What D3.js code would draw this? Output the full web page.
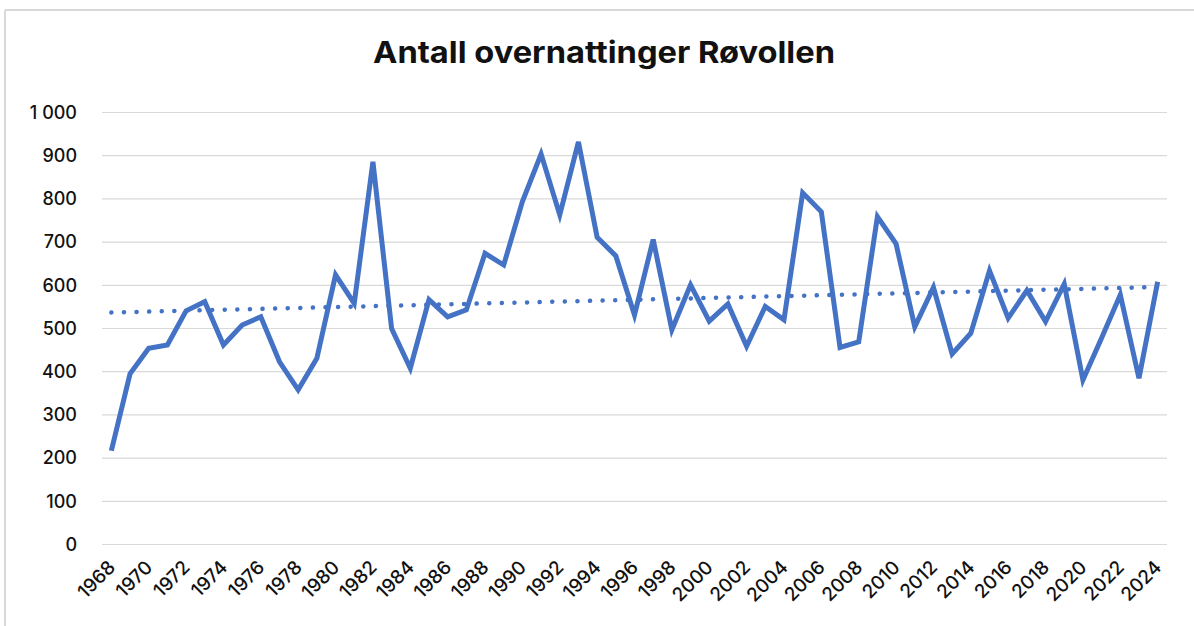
<!DOCTYPE html>
<html>
<head>
<meta charset="utf-8">
<script src="https://cdn.jsdelivr.net/npm/d3@7"></script>
<style>
  html, body { margin: 0; padding: 0; background: #fff; }
  svg { display: block; }
  text { font-family: Inter, "Open Sans", sans-serif; fill: #111; }
</style>
</head>
<body>
<svg id="chart" width="1194" height="626"></svg>
<script>
const years = [1968,1969,1970,1971,1972,1973,1974,1975,1976,1977,1978,1979,1980,1981,1982,1983,1984,1985,1986,1987,1988,1989,1990,1991,1992,1993,1994,1995,1996,1997,1998,1999,2000,2001,2002,2003,2004,2005,2006,2007,2008,2009,2010,2011,2012,2013,2014,2015,2016,2017,2018,2019,2020,2021,2022,2023,2024];
const overnattinger = [217,395,454,462,541,562,462,508,527,423,358,431,624,558,886,500,408,567,527,543,674,647,794,904,763,932,711,668,531,706,497,601,517,557,459,551,520,814,770,456,469,759,696,504,595,441,489,634,524,588,516,603,381,478,578,385,608];
const trendYears = [1968, 2024];
const trendValues = [537, 596];
const yTicks = [0,100,200,300,400,500,600,700,800,900,1000];
const yTickLabels = ["0","100","200","300","400","500","600","700","800","900","1\u00a0000"];
const xTickLabels = years.filter((y, i) => i % 2 === 0);
const title = "Antall overnattinger Røvollen";

const svg = d3.select("#chart");
const W = 1194, H = 626;
const plot = { left: 102, right: 1167, top: 112.5, bottom: 544.5 };

// frame
svg.append("line").attr("x1", 5).attr("x2", W).attr("y1", 10).attr("y2", 10)
  .attr("stroke", "#d9d9d9").attr("stroke-width", 2);
svg.append("line").attr("x1", 5).attr("x2", 5).attr("y1", 10).attr("y2", H)
  .attr("stroke", "#d9d9d9").attr("stroke-width", 2);

const x = d3.scaleBand().domain(years).range([plot.left, plot.right]).padding(0);
const xc = d => x(d) + x.bandwidth() / 2;
const y = d3.scaleLinear().domain([0, 1000]).range([plot.bottom, plot.top]);

// gridlines
svg.append("g").selectAll("line").data(yTicks).join("line")
  .attr("x1", plot.left).attr("x2", plot.right)
  .attr("y1", d => y(d)).attr("y2", d => y(d))
  .attr("stroke", "#d9d9d9").attr("stroke-width", 1.2);

// y axis labels
const yAxis = d3.axisLeft(y).tickValues(yTicks).tickSize(0).tickPadding(0)
  .tickFormat((d, i) => yTickLabels[i]);
const gy = svg.append("g").attr("transform", `translate(77,0)`).call(yAxis);
gy.select(".domain").remove();
gy.selectAll("text").attr("font-size", 18).attr("font-weight", 500)
  .attr("font-family", "Inter, sans-serif").attr("fill", "#111");

// x axis labels
const xAxis = d3.axisBottom(x).tickValues(xTickLabels).tickSize(0).tickPadding(0);
const gx = svg.append("g").attr("transform", `translate(0,${plot.bottom})`).call(xAxis);
gx.select(".domain").remove();
gx.selectAll("text")
  .attr("font-size", 19).attr("font-weight", 500).attr("font-family", "Inter, sans-serif")
  .attr("fill", "#111")
  .attr("text-anchor", "end")
  .attr("dy", 0).attr("y", 0).attr("x", 0)
  .attr("transform", "translate(5,24) rotate(-45)");

// trend line (dotted)
const line = d3.line().x(d => xc(d[0])).y(d => y(d[1]));
svg.append("path")
  .datum(trendYears.map((yr, i) => [yr, trendValues[i]]))
  .attr("d", line)
  .attr("fill", "none").attr("stroke", "#4472C4").attr("stroke-width", 4.5)
  .attr("stroke-linecap", "round").attr("stroke-dasharray", "0.1 12.5");

// main line
svg.append("path")
  .datum(years.map((yr, i) => [yr, overnattinger[i]]))
  .attr("d", line)
  .attr("fill", "none").attr("stroke", "#4472C4").attr("stroke-width", 5)
  .attr("stroke-linejoin", "miter").attr("stroke-linecap", "butt");

// title
svg.append("text").attr("x", 604).attr("y", 63)
  .attr("text-anchor", "middle").attr("font-size", 30).attr("font-weight", 700)
  .attr("font-family", "Inter, sans-serif")
  .attr("textLength", 462).attr("lengthAdjust", "spacingAndGlyphs")
  .text(title);
</script>
</body>
</html>
